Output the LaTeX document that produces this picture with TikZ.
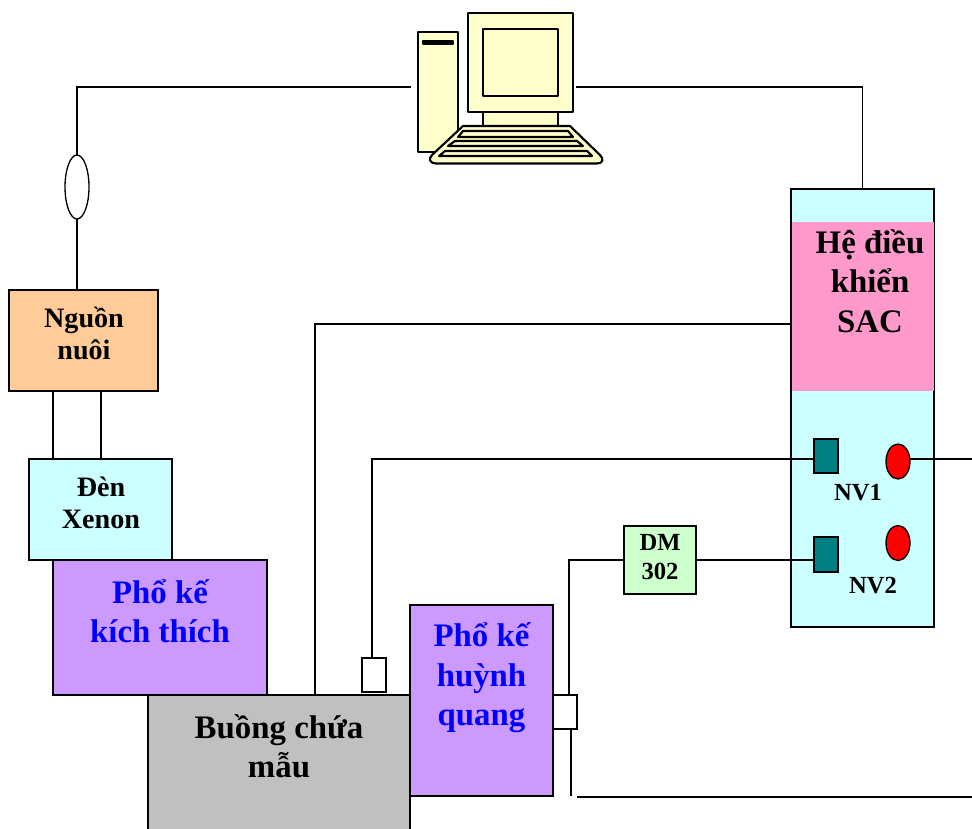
\documentclass[tikz,border=0pt]{standalone}
\usepackage{fontspec}
\setmainfont{Liberation Serif}
\usepackage{color}
\usetikzlibrary{shapes.geometric}

\definecolor{nguoncol}{RGB}{255,204,153}
\definecolor{dencol}{RGB}{204,255,255}
\definecolor{phokecol}{RGB}{204,153,255}
\definecolor{buongcol}{RGB}{192,192,192}
\definecolor{dmcol}{RGB}{204,255,204}
\definecolor{saccol}{RGB}{255,153,204}
\definecolor{nvcol}{RGB}{0,128,128}
\definecolor{pccol}{RGB}{255,255,204}

\tikzset{
	hop/.style={draw=black,line width=0.75pt,inner sep=0pt,outer sep=0pt},
	nhan/.style={font=\bfseries\fontsize{16}{18.2}\selectfont,align=center,inner sep=0pt},
	nhanlon/.style={font=\bfseries\fontsize{18.7}{22.4}\selectfont,align=center,inner sep=0pt},
	nhannho/.style={font=\bfseries\fontsize{14}{17}\selectfont,align=center,inner sep=0pt},
	day/.style={line width=0.75pt},
	maytinh/.style={draw=black,fill=pccol,line width=0.85pt,line join=round},
	phim/.style={draw=black,fill=pccol,line width=1.2pt,line join=round}
}

\begin{document}
\begin{tikzpicture}[x=0.02cm,y=-0.02cm]
			\useasboundingbox (0,0) rectangle (972,828);
			\clip (0,0) rectangle (972,828);
			% boxes
			\node[hop,fill=nguoncol,minimum width=149*0.02cm,minimum height=101*0.02cm] (nguon) at (83.5,340.5) {};
			\node[hop,fill=dencol,minimum width=143*0.02cm,minimum height=101*0.02cm] (den) at (100.5,509.5) {};
			\node[hop,fill=phokecol,minimum width=214*0.02cm,minimum height=135*0.02cm] (kichthich) at (160,627.5) {};
			\node[hop,fill=buongcol,minimum width=262*0.02cm,minimum height=145*0.02cm] (buong) at (279,767.5) {};
			\node[hop,fill=phokecol,minimum width=143*0.02cm,minimum height=191*0.02cm] (huynhquang) at (481.5,700.5) {};
			\node[hop,fill=white,minimum width=24*0.02cm,minimum height=34*0.02cm] (khe) at (565,712) {};
			\node[hop,fill=white,minimum width=24*0.02cm,minimum height=34*0.02cm] (cua) at (374,675) {};
			\node[hop,fill=dmcol,minimum width=72*0.02cm,minimum height=68*0.02cm] (dm) at (660,560) {};
			\node[hop,fill=dencol,minimum width=143*0.02cm,minimum height=438*0.02cm] (panel) at (862.5,408) {};
			\node[fill=saccol,inner sep=0pt,outer sep=0pt,minimum width=142*0.02cm,minimum height=169*0.02cm] (sac) at (863,306.5) {};
			% panel parts
			\node[hop,fill=nvcol,minimum width=24*0.02cm,minimum height=34*0.02cm] (nvone) at (826,456) {};
			\node[hop,fill=nvcol,minimum width=24*0.02cm,minimum height=35*0.02cm] (nvtwo) at (826,554.5) {};
			\node[hop,fill=red,ellipse,minimum width=24*0.02cm,minimum height=35*0.02cm] (denone) at (898,461.5) {};
			\node[hop,fill=red,ellipse,minimum width=24*0.02cm,minimum height=35*0.02cm] (dentwo) at (898,543) {};
			\node[hop,fill=white,ellipse,minimum width=24*0.02cm,minimum height=64*0.02cm] (vong) at (77,187) {};
			% computer
			\draw[maytinh] (418,32) rectangle (458,152);
			\draw[maytinh,fill=black] (423,41) rectangle (453,44);
			\draw[maytinh] (483,112) rectangle (558,127);
			\draw[maytinh] (468,13) rectangle (573,112);
			\draw[maytinh] (483,29) rectangle (558,96);
			\draw[phim] (463,126) -- (570,126) -- (600,155) .. controls (604,159) and (603,163.5) .. (597,163.5) -- (436,163.5) .. controls (430,163.5) and (428,159) .. (432,155) -- cycle;
			\draw[phim] (458,137) -- (463,131) -- (568,131) -- (573,137) -- cycle;
			\draw[phim] (448,146) -- (455,141) -- (577,141) -- (583,146) -- cycle;
			\draw[phim] (439,156) -- (445,151) -- (587,151) -- (592,156) -- cycle;
			% free ends
			\coordinate (pctrai) at (411,87);
			\coordinate (pcphai) at (576,87);
			\coordinate (racoone) at (972,459);
			\coordinate (duoi) at (577,797);
			\coordinate (duoiphai) at (972,797);
			\coordinate (duoikhe) at (571,796);
			\coordinate (sacra) at (791,324);
			\coordinate (buongvao) at (315,695);
			\coordinate (nvvao) at (814,459);
			\coordinate (cuavao) at (372,658);
			\coordinate (dmvao) at (624,560);
			\coordinate (khevao) at (569,695);
			\coordinate (khera) at (571,729);
			\coordinate (trenone) at (53,391);
			\coordinate (duoione) at (53,459);
			\coordinate (trentwo) at (101,391);
			\coordinate (duoitwo) at (101,459);
			\coordinate (panelvao) at (862.2,189);
			% lines
			\draw[day] (pctrai) -| (vong.north);
			\draw[day] (vong.south) -- (vong.south |- nguon.north);
			\draw[day] (pcphai) -| (panelvao);
			\draw[day] (sacra) -| (buongvao);
			\draw[day] (nvvao) -| (cuavao);
			\draw[day] (denone.east |- racoone) -- (racoone);
			\draw[day] (nvtwo.west |- dm.east) -- (dm.east);
			\draw[day] (dmvao) -| (khevao);
			\draw[day] (khera) -- (duoikhe);
			\draw[day] (duoi) -- (duoiphai);
			\draw[day] (trenone) -- (duoione);
			\draw[day] (trentwo) -- (duoitwo);
			% label
			\node[nhan] (nguontxt) at (84,333) {Nguồn\\nuôi};
			\node[nhan] (dentxt) at (101,503) {Đèn\\Xenon};
			\node[nhanlon,text=blue] (kichthichtxt) at (160,611) {Phổ kế\\kích thích};
			\node[nhanlon] (buongtxt) at (279,746) {Buồng chứa\\mẫu};
			\node[nhanlon,text=blue] (huynhquangtxt) at (481.5,678) {Phổ kế\\huỳnh\\quang};
			\node[nhannho] (dmtxt) at (660,557) {DM\\302};
			\node[nhanlon] (sactxt) at (870,281) {Hệ điều\\khiển\\SAC};
			\node[nhannho] (nvonetxt) at (858,493) {NV1};
			\node[nhannho] (nvtwotxt) at (873,586) {NV2};
		\end{tikzpicture}
\end{document}
